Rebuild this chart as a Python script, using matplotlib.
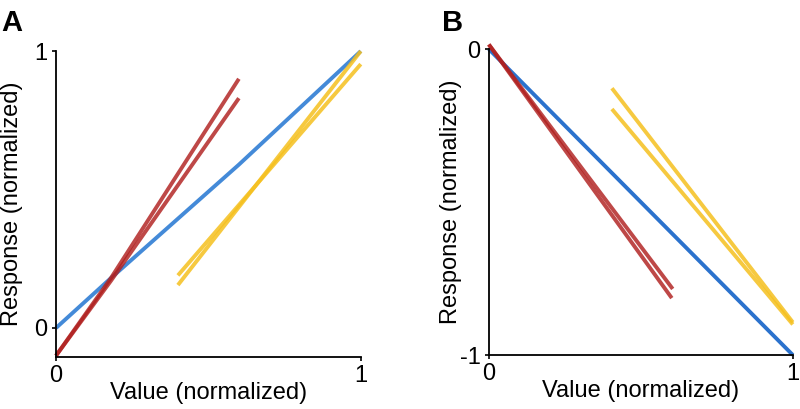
import matplotlib
matplotlib.use("Agg")
import matplotlib.pyplot as plt

plt.rcParams['font.family'] = ['Liberation Sans', 'DejaVu Sans']

# Panel A data
a_blue_x = [0.0, 0.18, 0.6, 1.0]
a_blue_y = [0.0, 0.18, 0.59, 1.0]
a_red1_x = [0.0, 0.18, 0.6]
a_red1_y = [-0.1, 0.18, 0.90]
a_red2_x = [0.0, 0.18, 0.6]
a_red2_y = [-0.1, 0.17, 0.83]
a_yel1_x = [0.40, 1.0]
a_yel1_y = [0.19, 0.953]
a_yel2_x = [0.40, 1.0]
a_yel2_y = [0.155, 1.0]

# Panel B data
b_blue_x = [0.0, 1.0]
b_blue_y = [0.0, -1.0]
b_red1_x = [0.0, 0.605]
b_red1_y = [0.015, -0.784]
b_red2_x = [0.0, 0.602]
b_red2_y = [0.015, -0.814]
b_yel1_x = [0.405, 1.0]
b_yel1_y = [-0.128, -0.893]
b_yel2_x = [0.405, 1.0]
b_yel2_y = [-0.196, -0.900]

a_xticks = [0, 1]
a_yticks = [0, 1]
b_xticks = [0, 1]
b_yticks = [-1, 0]
b_yticklabels = ['-1', '0']

blue_a = '#3a84d6'
blue_b = '#1f6acb'
red = '#b0201f'
yellow = '#f5c01e'
lw = 2.8
fs = 17

fig = plt.figure(figsize=(8, 4.09), dpi=100)
axA = fig.add_axes([0.07, 0.127, 0.381, 0.748])
axB = fig.add_axes([0.611, 0.132, 0.38, 0.748])

def style(ax, ylab_x):
    for s in ['top', 'right']:
        ax.spines[s].set_visible(False)
    for s in ['left', 'bottom']:
        ax.spines[s].set_linewidth(1.3)
    ax.tick_params(labelsize=fs, width=1.2, length=3, pad=3)
    ax.set_xlabel('Value (normalized)', fontsize=fs)
    ax.set_ylabel('Response (normalized)', fontsize=fs)
    ax.xaxis.set_label_coords(0.5, -0.082)
    ax.yaxis.set_label_coords(ylab_x, 0.5)

kw = dict(lw=lw, solid_capstyle='butt', clip_on=False)
axA.plot(a_blue_x, a_blue_y, color=blue_a, alpha=0.95, **kw)
axA.plot(a_red1_x, a_red1_y, color=red, alpha=0.82, **kw)
axA.plot(a_red2_x, a_red2_y, color=red, alpha=0.82, **kw)
axA.plot(a_yel1_x, a_yel1_y, color=yellow, alpha=0.85, **kw)
axA.plot(a_yel2_x, a_yel2_y, color=yellow, alpha=0.85, **kw)
axA.set_xlim(0, 1)
axA.set_ylim(-0.105, 1)
axA.set_xticks(a_xticks)
axA.set_yticks(a_yticks)
style(axA, -0.108)

axB.plot(b_blue_x, b_blue_y, color=blue_b, alpha=0.95, **kw)
axB.plot(b_red1_x, b_red1_y, color=red, alpha=0.82, **kw)
axB.plot(b_red2_x, b_red2_y, color=red, alpha=0.82, **kw)
axB.plot(b_yel1_x, b_yel1_y, color=yellow, alpha=0.85, **kw)
axB.plot(b_yel2_x, b_yel2_y, color=yellow, alpha=0.85, **kw)
axB.set_xlim(0, 1)
axB.set_ylim(-1, 0)
axB.set_xticks(b_xticks)
axB.set_yticks(b_yticks)
axB.set_yticklabels(b_yticklabels)
style(axB, -0.089)

fig.text(0.002, 0.978, 'A', fontsize=21, fontweight='bold', va='top', ha='left')
fig.text(0.552, 0.978, 'B', fontsize=21, fontweight='bold', va='top', ha='left')

fig.savefig('out.png', dpi=100)
